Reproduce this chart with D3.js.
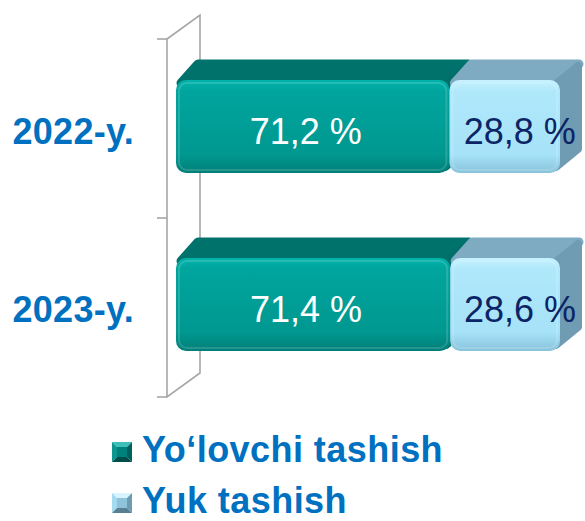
<!DOCTYPE html>
<html>
<head>
<meta charset="utf-8">
<script src="https://cdn.jsdelivr.net/npm/d3@7"></script>
<style>
  body { margin: 0; background: #fff; }
  text { font-family: "Liberation Sans", Arial, sans-serif; }
</style>
</head>
<body>
<div id="chart"></div>
<script>
// Data
const years = ["2022-y.", "2023-y."];
const seriesNames = ["Yo‘lovchi tashish", "Yuk tashish"];
const passenger = [71.2, 71.4];
const cargo = [28.8, 28.6];
const valueLabels = [["71,2 %", "71,4 %"], ["28,8 %", "28,6 %"]];

const width = 585, height = 521;

var svg = d3.select("#chart").append("svg")
  .attr("width", width)
  .attr("height", height);

// scales
var x = d3.scaleLinear().domain([0, 100]).range([176, 560]);
var y = d3.scaleBand().domain(years).range([37.5, 393.5])
  .paddingInner(0.478).paddingOuter(0.239);
var yWall = d3.scaleBand().domain(years).range([39, 397]);

// depth of the 3d effect
const bdx = 22, bdy = -18;   // bars
const wdx = 33, wdy = -24;   // wall

var defs = svg.append("defs");

function grad(id, stops) {
  var g = defs.append("linearGradient").attr("id", id)
    .attr("x1", 0).attr("y1", 0).attr("x2", 0).attr("y2", 1);
  stops.forEach(s => g.append("stop").attr("offset", s[0]).attr("stop-color", s[1]));
}
grad("frontTeal", [[0, "#00b3ab"], [0.12, "#00a59d"], [0.8, "#009890"], [1, "#007f78"]]);
grad("frontLight", [[0, "#c6f2ff"], [0.12, "#b0e8fb"], [0.8, "#a6e2f8"], [1, "#88c3dc"]]);

const colors = [
  { front: "url(#frontTeal)", top: "#00726c", side: "#006f69", text: "#ffffff" },
  { front: "url(#frontLight)", top: "#7eabc2", side: "#6f9bb3", text: "#0b2466" }
];
const labelShift = [-7, 15];

// wall (category axis in 3d)
var wall = svg.append("g")
  .attr("stroke", "#a6a6a6")
  .attr("stroke-width", 1.6)
  .attr("fill", "none");
var wTop = yWall.range()[0], wBot = yWall.range()[1], wX = 167;
wall.append("path")
  .attr("d", `M${wX},${wTop}L${wX + wdx},${wTop + wdy}L${wX + wdx},${wBot + wdy}L${wX},${wBot}Z`);
var tickYs = years.map(d => yWall(d)).concat([wBot]);
wall.selectAll("line.tick")
  .data(tickYs)
  .enter().append("line")
  .attr("x1", wX - 10).attr("x2", wX)
  .attr("y1", d => d).attr("y2", d => d);

// stacked segments
var stacked = [passenger, cargo];
var segs = [];
stacked.forEach(function(vals, si) {
  vals.forEach(function(v, i) {
    var start = si === 0 ? 0 : passenger[i];
    segs.push({ s: si, i: i, x0: x(start), x1: x(start + v), y0: y(years[i]), h: y.bandwidth(), label: valueLabels[si][i] });
  });
});

var bars = svg.selectAll("g.seg")
  .data(segs)
  .enter().append("g")
  .attr("class", "seg");

// top face
bars.append("path")
  .attr("d", d => `M${d.x0 + 5},${d.y0 + 3}L${d.x0 + bdx},${d.y0 + bdy + 2}L${d.x1 + bdx - 3},${d.y0 + bdy + 2}L${d.x1 - 3},${d.y0 + 3}Z`)
  .attr("fill", d => colors[d.s].top)
  .attr("stroke", d => colors[d.s].top)
  .attr("stroke-width", 9)
  .attr("stroke-linejoin", "round");

// right side face
bars.append("path")
  .attr("d", d => `M${d.x1 - 4},${d.y0 + 4}L${d.x1 + bdx - 4},${d.y0 + bdy + 4}L${d.x1 + bdx - 4},${d.y0 + d.h + bdy - 6}L${d.x1 - 4},${d.y0 + d.h - 6}Z`)
  .attr("fill", d => colors[d.s].side)
  .attr("stroke", d => colors[d.s].side)
  .attr("stroke-width", 8)
  .attr("stroke-linejoin", "round");

// front face
bars.append("rect")
  .attr("x", d => d.x0)
  .attr("y", d => d.y0)
  .attr("width", d => d.x1 - d.x0)
  .attr("height", d => d.h)
  .attr("rx", 10)
  .attr("fill", d => colors[d.s].front);

// bevel highlight on the front
bars.append("rect")
  .attr("x", d => d.x0 + 3)
  .attr("y", d => d.y0 + 3)
  .attr("width", d => d.x1 - d.x0 - 6)
  .attr("height", d => d.h - 6)
  .attr("rx", 8)
  .attr("fill", "none")
  .attr("stroke", "#ffffff")
  .attr("stroke-opacity", 0.15)
  .attr("stroke-width", 2);

// value labels
bars.append("text")
  .attr("x", d => (d.x0 + d.x1) / 2 + labelShift[d.s])
  .attr("y", d => d.y0 + d.h / 2 + 17)
  .attr("text-anchor", "middle")
  .attr("font-size", 36)
  .attr("fill", d => colors[d.s].text)
  .text(d => d.label);

// category labels
svg.selectAll("text.cat")
  .data(years)
  .enter().append("text")
  .attr("class", "cat")
  .attr("x", 134)
  .attr("y", d => y(d) + y.bandwidth() / 2 + 17)
  .attr("text-anchor", "end")
  .attr("font-size", 36)
  .attr("font-weight", "bold")
  .attr("letter-spacing", 0.3)
  .attr("fill", "#0070c0")
  .text(d => d);

// legend
const legendShades = [
  ["#3cc0b8", "#109690", "#00625d", "#004d49", "#00827c"],
  ["#d6f5ff", "#a5dbf0", "#6d9cb2", "#587f92", "#8fc3da"]
];
var legend = svg.selectAll("g.leg")
  .data(seriesNames)
  .enter().append("g")
  .attr("class", "leg")
  .attr("transform", (d, i) => `translate(112,${442 + i * 51})`);

legend.each(function(d, i) {
  var g = d3.select(this), s = 20, c = legendShades[i], m = 5;
  g.append("path").attr("d", `M0,0L${s},0L${s - m},${m}L${m},${m}Z`).attr("fill", c[0]);
  g.append("path").attr("d", `M0,0L${m},${m}L${m},${s - m}L0,${s}Z`).attr("fill", c[1]);
  g.append("path").attr("d", `M${s},0L${s},${s}L${s - m},${s - m}L${s - m},${m}Z`).attr("fill", c[2]);
  g.append("path").attr("d", `M0,${s}L${m},${s - m}L${s - m},${s - m}L${s},${s}Z`).attr("fill", c[3]);
  g.append("rect").attr("x", m).attr("y", m).attr("width", s - 2 * m).attr("height", s - 2 * m).attr("fill", c[4]);
});

legend.append("text")
  .attr("x", 30)
  .attr("y", 20)
  .attr("font-size", 36)
  .attr("font-weight", "bold")
  .attr("letter-spacing", 0.45)
  .attr("fill", "#0070c0")
  .text(d => d);
</script>
</body>
</html>
